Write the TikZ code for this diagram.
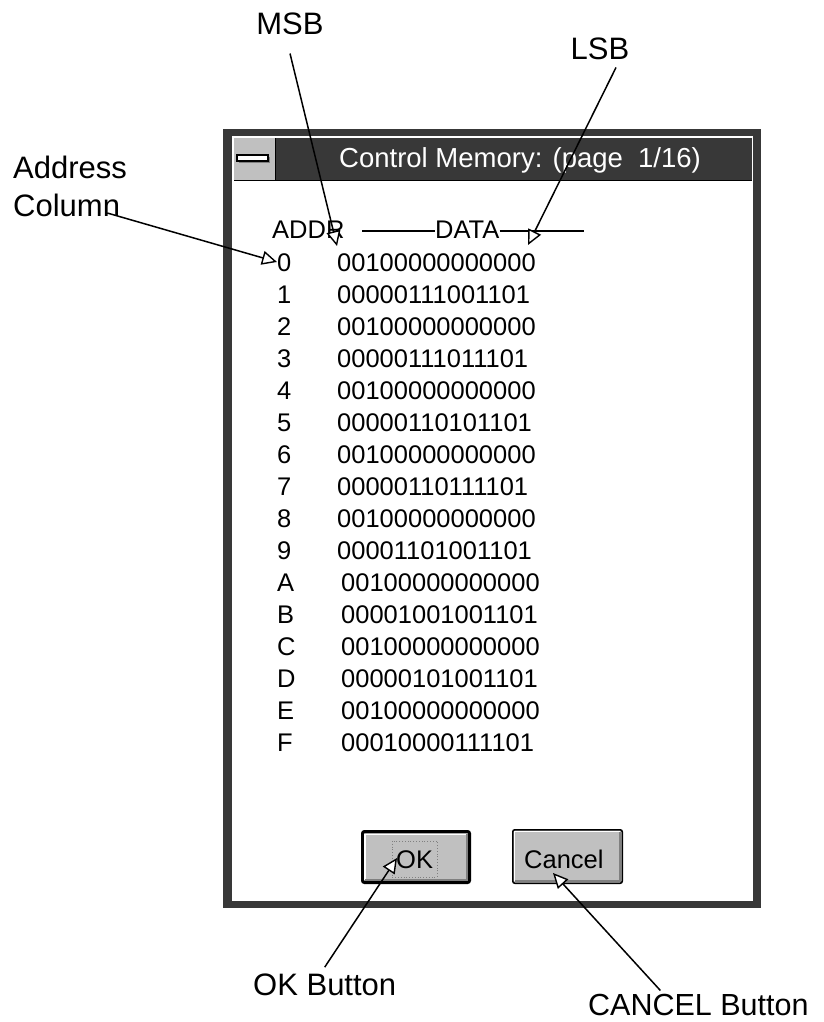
\documentclass[tikz,border=0pt]{standalone}
\usepackage{fontspec}
\setmainfont{Liberation Sans}
\usetikzlibrary{arrows.meta}
\definecolor{frame}{HTML}{383838}
\definecolor{btn}{HTML}{C0C0C0}
\definecolor{shadow}{HTML}{808080}
\begin{document}
\begin{tikzpicture}[x=1pt,y=-1pt,
  lbl/.style={font=\fontsize{31}{37}\selectfont, inner sep=0pt},
  mono/.style={font=\fontsize{25.5}{30}\selectfont, inner sep=0pt},
  callout/.style={line width=1.5pt, -{Triangle[length=15pt,width=14pt,fill=white,line width=1.4pt]}},
  hline/.style={line width=1.3pt},
  btnbox/.style={draw=black, fill=btn, rounded corners=2pt, inner sep=0pt}]
\useasboundingbox (0,0) rectangle (823,1022);
\fill[white] (0,0) rectangle (823,1022);

% window frame
\fill[frame] (223,129) rectangle (761,908);
\fill[white] (232,136) rectangle (753,901);
\fill[frame] (234,138) rectangle (752,180);
\draw[black, line width=1pt] (234,180) -- (752,180);
\fill[btn] (234,138) rectangle (275,179.5);
\draw[black, line width=1pt] (275.5,138) -- (275.5,180);
\fill[shadow] (239,157) rectangle (270,163);
\draw[black, fill=white, line width=1.2pt] (237,155) rectangle (268,161);
\node[mono, text=white, anchor=base west, font=\fontsize{27.5}{30}\selectfont] (title) at (339,167) {Control Memory: (page~~1/16)};

% header
\node[mono, anchor=base west] (addr) at (272,238) {ADDR};
\node[mono, anchor=base west] (data) at (435,238) {DATA};
\coordinate (h1) at (362,231);
\coordinate (hend) at (584,231);
\draw[hline] (h1) -- (data.west |- h1);
\draw[hline] (data.east |- h1) -- (hend);

% rows
\foreach \a/\d [count=\i from 0] in {0/00100000000000,1/00000111001101,2/00100000000000,3/00000111011101,4/00100000000000,5/00000110101101,6/00100000000000,7/00000110111101,8/00100000000000,9/00001101001101}{
  \node[mono, anchor=base west] (a\i) at (277,271+32*\i) {\a};
  \node[mono, anchor=base west] (d\i) at (337,271+32*\i) {\d};
}
\foreach \a/\d [count=\i from 10] in {A/00100000000000,B/00001001001101,C/00100000000000,D/00000101001101,E/00100000000000,F/00010000111101}{
  \node[mono, anchor=base west] (a\i) at (277,271+32*\i) {\a};
  \node[mono, anchor=base west] (d\i) at (341,271+32*\i) {\d};
}

% OK button
\node[btnbox, line width=3pt, minimum width=107pt, minimum height=51pt] (okb) at (416,857) {};
\draw[white, line width=1.5pt] (365,880) -- (365,834.5) -- (467,834.5);
\draw[shadow, line width=2pt] (365,879.5) -- (466.5,879.5) -- (466.5,834);
\draw[shadow, line width=0.8pt, dotted] (392,841) rectangle (437,877);
\node[mono, anchor=base west] (oktxt) at (396,868) {OK};

% Cancel button
\node[btnbox, line width=1.5pt, minimum width=109.5pt, minimum height=53.5pt] (cnb) at (567.5,856.5) {};
\draw[white, line width=1.5pt] (514.5,881) -- (514.5,831.5) -- (620,831.5);
\draw[shadow, line width=2pt] (515,880.5) -- (619.5,880.5) -- (619.5,832);
\node[mono, anchor=base west] (cntxt) at (524,868) {Cancel};

% labels
\node[lbl, anchor=base] (MSB) at (290,35) {MSB};
\node[lbl, anchor=base] (LSB) at (600,60) {LSB};
\node[lbl, anchor=base west] (adrL) at (13,178) {Address};
\node[lbl, anchor=base west] (colL) at (13,216) {Column};
\node[lbl, anchor=base west] (okL) at (253,995) {OK Button};
\node[lbl, anchor=base west, font=\fontsize{30.5}{36}\selectfont] (canL) at (588,1015) {CANCEL Button};

% arrow tips
\coordinate (msbT) at (337,246);
\coordinate (lsbT) at (528,245);
\coordinate (adrT) at (277,262);
\coordinate (okT) at (397,858);
\coordinate (canT) at (553,873);

\draw[callout] ([yshift=-18pt]MSB.south) -- (msbT);
\draw[callout] ([shift={(16,7)}]LSB.south) -- (lsbT);
\draw[callout] ([shift={(-13,-3)}]colL.base east) -- (adrT);
\draw[callout] ([yshift=6pt]okL.north) -- (okT);
\draw[callout] ([shift={(-38,-3)}]canL.north) -- (canT);
\end{tikzpicture}
\end{document}
